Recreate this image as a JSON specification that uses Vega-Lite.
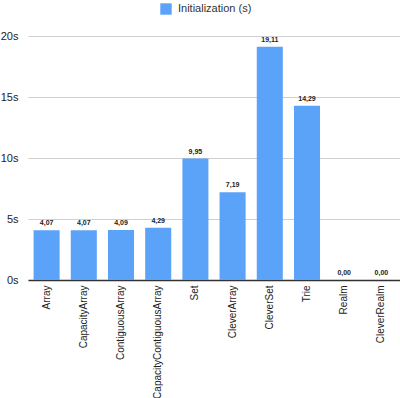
{
  "$schema": "https://vega.github.io/schema/vega-lite/v6.json",
  "width": 372,
  "height": 244,
  "autosize": {"type": "none"},
  "padding": {"left": 28, "top": 36, "right": 0, "bottom": 118},
  "config": {
    "locale": {"number": {"decimal": ",", "thousands": ".", "grouping": [3], "currency": ["", "€"]}},
    "view": {"stroke": null},
    "font": "Liberation Sans"
  },
  "data": {
    "values": [
      {"name": "Array", "value": 4.07},
      {"name": "CapacityArray", "value": 4.07},
      {"name": "ContiguousArray", "value": 4.09},
      {"name": "CapacityContiguousArray", "value": 4.29},
      {"name": "Set", "value": 9.95},
      {"name": "CleverArray", "value": 7.19},
      {"name": "CleverSet", "value": 19.11},
      {"name": "Trie", "value": 14.29},
      {"name": "Realm", "value": 0.0},
      {"name": "CleverRealm", "value": 0.0}
    ]
  },
  "encoding": {
    "x": {
      "field": "name",
      "type": "nominal",
      "sort": null,
      "scale": {"paddingInner": 0.3, "paddingOuter": 0.15},
      "axis": {
        "title": null,
        "labelAngle": -90,
        "labelAlign": "right",
        "labelBaseline": "middle",
        "labelFontSize": 10,
        "labelColor": "#222",
        "labelPadding": 5,
        "labelLimit": 200,
        "ticks": false,
        "domainColor": "#333",
        "domainWidth": 1.5,
        "grid": false
      }
    },
    "y": {
      "field": "value",
      "type": "quantitative",
      "scale": {"domain": [0, 20]},
      "axis": {
        "title": null,
        "values": [0, 5, 10, 15, 20],
        "labelExpr": "datum.value + 's'",
        "labelFontSize": 11,
        "labelColor": "#222",
        "labelPadding": 10,
        "domain": false,
        "ticks": false,
        "gridColor": "#d0d0d0",
        "gridWidth": 1
      }
    }
  },
  "layer": [
    {
      "mark": {"type": "bar"},
      "encoding": {
        "color": {
          "datum": "Initialization (s)",
          "type": "nominal",
          "scale": {"range": ["#5ba2f9"]},
          "legend": {
            "title": null,
            "orient": "none",
            "legendX": 132,
            "legendY": -33,
            "symbolType": "square",
            "symbolSize": 130,
            "symbolStrokeWidth": 0,
            "labelFontSize": 11,
            "labelColor": "#333",
            "labelOffset": 6
          }
        }
      }
    },
    {
      "mark": {"type": "text", "dy": -4, "baseline": "bottom", "fontSize": 7, "fontWeight": "bold", "color": "#222"},
      "encoding": {
        "text": {"field": "value", "type": "quantitative", "format": ".2f"}
      }
    }
  ]
}
